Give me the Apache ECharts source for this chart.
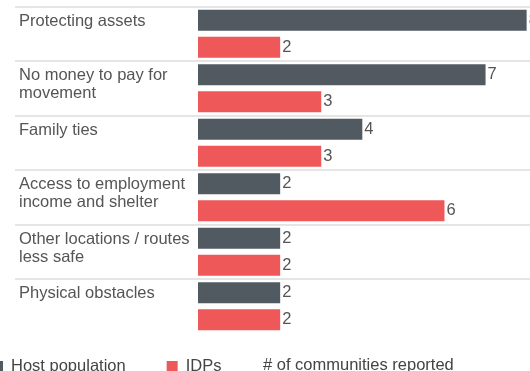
<!DOCTYPE html>
<html>
<head>
<meta charset="utf-8">
<script src="https://cdn.jsdelivr.net/npm/echarts@6/dist/echarts.min.js"></script>
<style>
  html, body { margin: 0; padding: 0; background: #fff; }
  #chart { width: 530px; height: 371px; }
</style>
</head>
<body>
<div id="chart"></div>
<script>
// Reasons reported for not moving, by population group
const categories = [
  'Protecting assets',
  'No money to pay for movement',
  'Family ties',
  'Access to employment income and shelter',
  'Other locations / routes less safe',
  'Physical obstacles'
];
const hostPopulation = [8, 7, 4, 2, 2, 2];
const idps = [2, 3, 3, 6, 2, 2];
const seriesNames = ['Host population', 'IDPs'];
const unitNote = '# of communities reported';

const FONT = '"Liberation Sans", Arial, Helvetica, sans-serif';
const TEXT = '#555555';

const chart = echarts.init(document.getElementById('chart'), null, { renderer: 'canvas' });

chart.setOption({
  animation: false,
  textStyle: { fontFamily: FONT },
  grid: { left: 15, right: 0, top: 6.5, bottom: 37.5, containLabel: false },
  xAxis: {
    type: 'value',
    // leave room on the left of zero for the category labels
    min: -4.455,
    max: 8.082,
    show: false
  },
  yAxis: {
    type: 'category',
    inverse: true,
    data: categories,
    axisLine: { show: false, onZero: false },
    axisTick: { show: false },
    splitLine: {
      show: true,
      showMaxLine: false,
      lineStyle: { color: '#dddddd', width: 1.5 }
    },
    axisLabel: {
      interval: 0,
      align: 'left',
      verticalAlign: 'top',
      margin: -4,
      padding: [-21.5, 0, 0, 0],
      width: 178,
      overflow: 'break',
      fontSize: 16.5,
      lineHeight: 18,
      color: TEXT,
      fontFamily: FONT
    }
  },
  legend: {
    left: -8,
    top: 358,
    padding: 0,
    itemWidth: 11,
    itemHeight: 11,
    itemGap: 41,
    icon: 'rect',
    data: seriesNames,
    textStyle: {
      fontSize: 16.5,
      lineHeight: 11,
      color: '#444444',
      fontFamily: FONT,
      padding: [0, 0, 0, 3]
    }
  },
  graphic: [{
    type: 'text',
    left: 263,
    top: 357,
    style: {
      text: unitNote,
      fontSize: 16.5,
      fontFamily: FONT,
      fill: '#444444'
    }
  }],
  series: [
    {
      name: seriesNames[0],
      type: 'bar',
      data: hostPopulation,
      barCategoryGap: '12%',
      barGap: '29%',
      itemStyle: { color: '#525a61' },
      label: {
        show: true,
        position: 'right',
        distance: 2,
        fontSize: 16.5,
        color: TEXT,
        fontFamily: FONT
      }
    },
    {
      name: seriesNames[1],
      type: 'bar',
      data: idps,
      barCategoryGap: '12%',
      barGap: '29%',
      itemStyle: { color: '#ee5859' },
      label: {
        show: true,
        position: 'right',
        distance: 2,
        fontSize: 16.5,
        color: TEXT,
        fontFamily: FONT
      }
    }
  ]
});
</script>
</body>
</html>
